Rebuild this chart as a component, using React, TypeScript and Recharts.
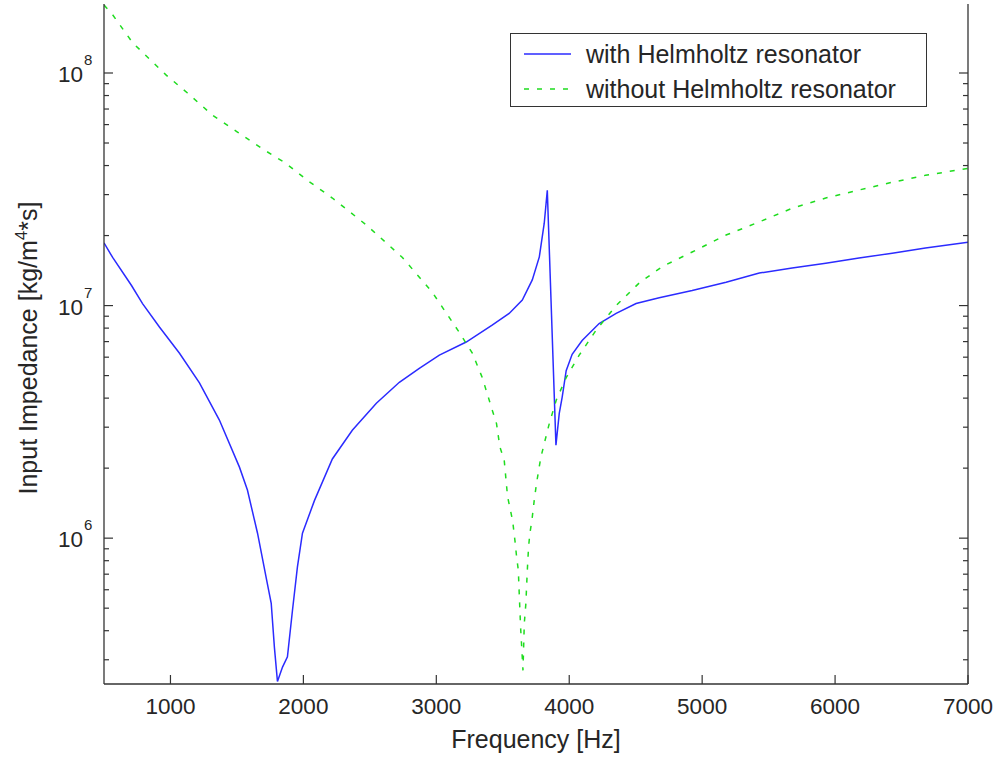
import React from "react";
import { LineChart, Line, XAxis, YAxis, Legend, Label } from "recharts";

const withFreq = [500, 565, 707, 790, 917, 1068, 1218, 1368, 1519, 1579, 1655, 1720, 1758, 1782, 1805, 1843, 1880, 1918, 1955, 1993, 2083, 2218, 2368, 2549, 2722, 2872, 3023, 3225, 3420, 3548, 3647, 3722, 3775, 3812, 3835, 3900, 3925, 3947, 3977, 4022, 4097, 4225, 4353, 4503, 4677, 4925, 5180, 5430, 5677, 5930, 6180, 6430, 6680, 7000];
const withImpedance = [1.86e7, 1.61e7, 1.22e7, 1.02e7, 8.09e6, 6.24e6, 4.65e6, 3.22e6, 2.02e6, 1.61e6, 1.05e6, 6.76e5, 5.25e5, 3.39e5, 2.42e5, 2.79e5, 3.09e5, 4.9e5, 7.5e5, 1.05e6, 1.45e6, 2.19e6, 2.91e6, 3.8e6, 4.68e6, 5.37e6, 6.12e6, 6.97e6, 8.24e6, 9.25e6, 1.057e7, 1.29e7, 1.62e7, 2.26e7, 3.13e7, 2.51e6, 3.44e6, 4.04e6, 5.25e6, 6.17e6, 7.08e6, 8.37e6, 9.25e6, 1.02e7, 1.08e7, 1.16e7, 1.26e7, 1.38e7, 1.45e7, 1.52e7, 1.6e7, 1.68e7, 1.77e7, 1.87e7];

const withoutFreq = [500, 565, 715, 970, 1128, 1316, 1504, 1684, 1865, 2038, 2218, 2474, 2745, 2970, 3173, 3271, 3346, 3421, 3453, 3478, 3511, 3536, 3574, 3594, 3604, 3617, 3624, 3634, 3645, 3652, 3662, 3674, 3679, 3686, 3694, 3704, 3719, 3737, 3754, 3774, 3787, 3812, 3850, 3902, 3977, 4075, 4203, 4353, 4526, 4699, 4925, 5180, 5430, 5677, 5930, 6180, 6430, 6680, 7000];
const withoutImpedance = [1.96e8, 1.78e8, 1.35e8, 9.77e7, 8.2e7, 6.59e7, 5.57e7, 4.75e7, 4.1e7, 3.43e7, 2.9e7, 2.22e7, 1.61e7, 1.14e7, 7.67e6, 6.24e6, 4.9e6, 3.55e6, 3.11e6, 2.47e6, 2.16e6, 1.51e6, 1.19e6, 9.5e5, 8.3e5, 7.28e5, 5.75e5, 4.15e5, 3.2e5, 2.7e5, 4.3e5, 5.25e5, 6.17e5, 7.52e5, 9.16e5, 1.05e6, 1.19e6, 1.46e6, 1.72e6, 2.02e6, 2.23e6, 2.55e6, 3.11e6, 3.92e6, 4.9e6, 6.12e6, 7.85e6, 1.0e7, 1.25e7, 1.47e7, 1.7e7, 2.01e7, 2.29e7, 2.62e7, 2.9e7, 3.14e7, 3.39e7, 3.63e7, 3.89e7];

const xTicks = [1000, 2000, 3000, 4000, 5000, 6000, 7000];
const yTicks = [3e5, 4e5, 5e5, 6e5, 7e5, 8e5, 9e5, 1e6, 2e6, 3e6, 4e6, 5e6, 6e6, 7e6, 8e6, 9e6, 1e7, 2e7, 3e7, 4e7, 5e7, 6e7, 7e7, 8e7, 9e7, 1e8];
const seriesNames = ["with Helmholtz resonator", "without Helmholtz resonator"];

const withData = withFreq.map((f, i) => ({ f, z: withImpedance[i] }));
const withoutData = withoutFreq.map((f, i) => ({ f, z: withoutImpedance[i] }));

const FONT = "'Liberation Sans', Arial, sans-serif";
const TEXT = "#262626";
const AXIS = "#333";
const BLUE = "#2b2bff";
const GREEN = "#1fdc1f";
const DASH = "5 8";

const isMajor = (v: number) => Math.abs(Math.log10(v) - Math.round(Math.log10(v))) < 1e-6;

const LeftTick = (props: any) => {
  const { x, y, payload } = props;
  const v = payload.value;
  const major = isMajor(v);
  return (
    <g>
      <line x1={x} x2={x + (major ? 9 : 5)} y1={y} y2={y} stroke={AXIS} strokeWidth={1.2} />
      {major && (
        <g fontFamily={FONT} fill={TEXT}>
          <text x={x - 21} y={y + 9} textAnchor="end" fontSize={22.5}>10</text>
          <text x={x - 20} y={y - 8} textAnchor="start" fontSize={15}>{Math.round(Math.log10(v))}</text>
        </g>
      )}
    </g>
  );
};

const RightTick = (props: any) => {
  const { x, y, payload } = props;
  const major = isMajor(payload.value);
  return <line x1={x} x2={x - (major ? 9 : 5)} y1={y} y2={y} stroke={AXIS} strokeWidth={1.2} />;
};

const BottomTick = (props: any) => {
  const { x, y, payload } = props;
  return (
    <g>
      <line x1={x} x2={x} y1={y} y2={y - 9} stroke={AXIS} strokeWidth={1.2} />
      <text x={x} y={y + 30} textAnchor="middle" fontFamily={FONT} fontSize={22.5} fill={TEXT}>
        {payload.value}
      </text>
    </g>
  );
};

const TopTick = (props: any) => {
  const { x, y } = props;
  return <line x1={x} x2={x} y1={y} y2={y + 9} stroke={AXIS} strokeWidth={1.2} />;
};

const YLabel = (props: any) => {
  const vb = props.viewBox || { x: 0, y: 4, width: 104, height: 679 };
  const cx = vb.x + 37;
  const cy = vb.y + vb.height / 2 + 4;
  return (
    <text
      x={cx}
      y={cy}
      transform={`rotate(-90 ${cx} ${cy})`}
      textAnchor="middle"
      fontFamily={FONT}
      fontSize={25}
      fill={TEXT}
    >
      Input Impedance [kg/m
      <tspan fontSize={17} dy={-10}>4</tspan>
      <tspan dy={10}>*s]</tspan>
    </text>
  );
};

const XLabel = (props: any) => {
  const vb = props.viewBox || { x: 104, y: 683, width: 864, height: 75 };
  return (
    <text x={vb.x + vb.width / 2} y={vb.y + 64} textAnchor="middle" fontFamily={FONT} fontSize={25} fill={TEXT}>
      Frequency [Hz]
    </text>
  );
};

const LegendBox = (props: any) => {
  const payload = props.payload || [];
  return (
    <div
      style={{
        width: 415,
        height: 72,
        border: `1px solid ${AXIS}`,
        background: "#fff",
        fontFamily: FONT,
        fontSize: 25,
        color: TEXT,
        position: "relative",
      }}
    >
      {payload.map((p: any, i: number) => (
        <div key={i} style={{ position: "absolute", left: 0, top: i === 0 ? 6 : 41, height: 28, display: "flex", alignItems: "center" }}>
          <svg width={75} height={28} style={{ display: "block" }}>
            <line
              x1={13}
              x2={60}
              y1={14}
              y2={14}
              stroke={p.color}
              strokeWidth={1.5}
              strokeDasharray={i === 1 ? DASH : undefined}
            />
          </svg>
          <span style={{ whiteSpace: "nowrap", lineHeight: "28px" }}>{p.value}</span>
        </div>
      ))}
    </div>
  );
};

export default function App() {
  return (
    <div style={{ position: "absolute", left: 0, top: 0, width: 999, height: 759, background: "#fff" }}>
      <LineChart width={999} height={759} margin={{ top: 4, right: 0, bottom: 0, left: 0 }}>
        <XAxis
          dataKey="f"
          type="number"
          domain={[500, 7000]}
          ticks={xTicks}
          interval={0}
          allowDataOverflow
          height={75}
          tickSize={0}
          tickMargin={0}
          tick={<BottomTick />}
          axisLine={{ stroke: AXIS, strokeWidth: 1.3 }}
        >
          <Label content={<XLabel />} />
        </XAxis>
        <XAxis
          xAxisId="top"
          orientation="top"
          dataKey="f"
          type="number"
          domain={[500, 7000]}
          ticks={xTicks}
          interval={0}
          allowDataOverflow
          height={0}
          tickSize={0}
          tickMargin={0}
          tick={<TopTick />}
          axisLine={{ stroke: AXIS, strokeWidth: 1.3 }}
        />
        <YAxis
          dataKey="z"
          scale="log"
          type="number"
          domain={[2.36e5, 1.98e8]}
          ticks={yTicks}
          interval={0}
          allowDataOverflow
          width={104}
          tickSize={0}
          tickMargin={0}
          tick={<LeftTick />}
          axisLine={{ stroke: AXIS, strokeWidth: 1.3 }}
        >
          <Label content={<YLabel />} />
        </YAxis>
        <YAxis
          yAxisId="right"
          orientation="right"
          scale="log"
          type="number"
          domain={[2.36e5, 1.98e8]}
          ticks={yTicks}
          interval={0}
          allowDataOverflow
          width={31}
          tickSize={0}
          tickMargin={0}
          tick={<RightTick />}
          axisLine={{ stroke: AXIS, strokeWidth: 1.3 }}
        />
        <Legend
          layout="vertical"
          align="center"
          verticalAlign="middle"
          wrapperStyle={{ left: 510, top: 33, width: 417, height: 74 }}
          content={<LegendBox />}
        />
        <Line
          data={withData}
          dataKey="z"
          name={seriesNames[0]}
          type="linear"
          stroke={BLUE}
          strokeWidth={1.5}
          dot={false}
          isAnimationActive={false}
        />
        <Line
          data={withoutData}
          dataKey="z"
          name={seriesNames[1]}
          type="linear"
          stroke={GREEN}
          strokeWidth={1.5}
          strokeDasharray={DASH}
          dot={false}
          isAnimationActive={false}
        />
      </LineChart>
    </div>
  );
}
